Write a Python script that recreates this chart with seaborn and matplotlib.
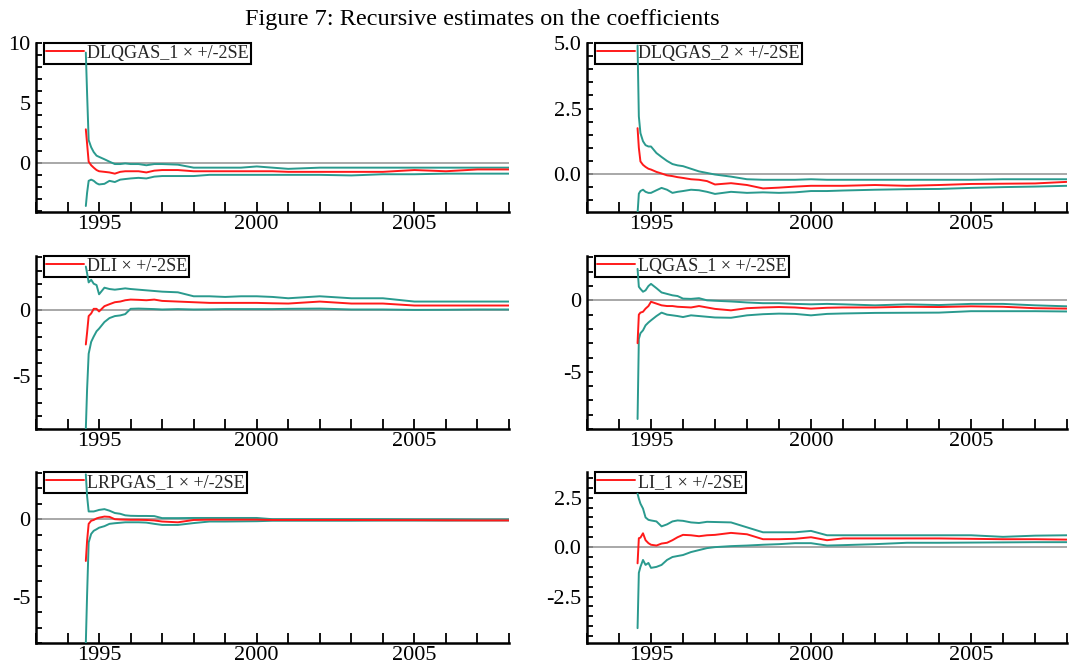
import matplotlib
matplotlib.use("Agg")
import matplotlib.pyplot as plt
import seaborn as sns
import pandas as pd
from matplotlib.ticker import MultipleLocator, FixedLocator, FormatStrFormatter

# ---------------- data ----------------
dates = [1994.58, 1994.62, 1994.67, 1994.75, 1994.83, 1994.92, 1995.0, 1995.17,
         1995.33, 1995.5, 1995.67, 1995.83, 1996.0, 1996.25, 1996.5, 1996.75,
         1997.0, 1997.5, 1998.0, 1998.5, 1999.0, 1999.5, 2000.0, 2000.5,
         2001.0, 2002.0, 2003.0, 2004.0, 2005.0, 2006.0, 2007.0, 2008.0]

dlqgas1_est = [2.8, 1.6, 0.1, -0.2, -0.4, -0.6, -0.7, -0.75, -0.8, -0.9, -0.75, -0.7,
               -0.7, -0.7, -0.8, -0.65, -0.6, -0.6, -0.7, -0.7, -0.7, -0.7, -0.7, -0.7,
               -0.75, -0.75, -0.75, -0.75, -0.6, -0.7, -0.55, -0.55]
dlqgas1_hi = [9.2, 5.8, 1.9, 1.3, 0.9, 0.6, 0.5, 0.3, 0.1, -0.1, -0.1, -0.05,
              -0.1, -0.1, -0.2, -0.1, -0.1, -0.15, -0.4, -0.4, -0.4, -0.4, -0.3, -0.4,
              -0.5, -0.4, -0.4, -0.4, -0.4, -0.4, -0.4, -0.4]
dlqgas1_lo = [-3.6, -2.5, -1.5, -1.4, -1.5, -1.7, -1.8, -1.75, -1.5, -1.6, -1.4, -1.35,
              -1.3, -1.25, -1.3, -1.15, -1.1, -1.1, -1.1, -1.0, -1.0, -1.0, -1.0, -1.0,
              -1.0, -1.0, -1.05, -0.95, -0.95, -0.9, -0.9, -0.9]

dlqgas2_est = [1.75, 1.0, 0.48, 0.35, 0.27, 0.2, 0.17, 0.08, 0.02, -0.05, -0.08, -0.12,
               -0.15, -0.2, -0.22, -0.27, -0.4, -0.35, -0.42, -0.55, -0.52, -0.48, -0.45, -0.45,
               -0.45, -0.42, -0.45, -0.42, -0.38, -0.37, -0.36, -0.3]
dlqgas2_hi = [4.9, 2.2, 1.56, 1.25, 1.1, 1.05, 1.05, 0.8, 0.65, 0.5, 0.38, 0.33,
              0.3, 0.2, 0.1, 0.04, -0.02, -0.1, -0.2, -0.22, -0.22, -0.22, -0.2, -0.22,
              -0.22, -0.22, -0.22, -0.22, -0.22, -0.2, -0.2, -0.2]
dlqgas2_lo = [-1.5, -0.75, -0.65, -0.6, -0.68, -0.72, -0.72, -0.62, -0.53, -0.6, -0.72, -0.68,
              -0.65, -0.6, -0.62, -0.68, -0.76, -0.68, -0.72, -0.7, -0.72, -0.7, -0.65, -0.65,
              -0.63, -0.6, -0.58, -0.57, -0.53, -0.5, -0.48, -0.45]

dli_est = [-2.6, -1.7, -0.45, -0.25, 0.1, 0.1, -0.1, 0.3, 0.45, 0.6, 0.65, 0.75,
           0.8, 0.78, 0.75, 0.8, 0.7, 0.65, 0.6, 0.55, 0.55, 0.55, 0.55, 0.52,
           0.5, 0.65, 0.5, 0.5, 0.35, 0.35, 0.35, 0.35]
dli_hi = [3.3, 2.8, 2.1, 2.3, 2.0, 1.9, 1.2, 1.7, 1.6, 1.55, 1.6, 1.65,
          1.6, 1.55, 1.5, 1.45, 1.4, 1.35, 1.05, 1.05, 1.0, 1.05, 1.05, 1.0,
          0.9, 1.05, 0.9, 0.9, 0.65, 0.65, 0.65, 0.65]
dli_lo = [-9.0, -6.0, -3.3, -2.4, -2.0, -1.6, -1.4, -0.9, -0.6, -0.45, -0.4, -0.3,
          0.1, 0.12, 0.1, 0.08, 0.05, 0.08, 0.05, 0.06, 0.08, 0.08, 0.08, 0.08,
          0.1, 0.12, 0.05, 0.05, 0.02, 0.03, 0.05, 0.05]

lqgas1_est = [-3.0, -1.0, -0.86, -0.8, -0.58, -0.4, -0.1, -0.23, -0.35, -0.4, -0.4, -0.45,
              -0.47, -0.5, -0.4, -0.5, -0.6, -0.7, -0.55, -0.5, -0.47, -0.5, -0.58, -0.52,
              -0.5, -0.5, -0.45, -0.47, -0.42, -0.45, -0.55, -0.58]
lqgas1_hi = [2.2, 0.95, 0.8, 0.6, 0.7, 1.0, 1.15, 0.85, 0.55, 0.45, 0.35, 0.3,
             0.12, 0.1, 0.15, 0.0, -0.03, -0.08, -0.15, -0.2, -0.2, -0.25, -0.28, -0.25,
             -0.28, -0.35, -0.28, -0.33, -0.25, -0.25, -0.35, -0.42]
lqgas1_lo = [-8.3, -2.7, -2.3, -2.1, -1.75, -1.55, -1.4, -1.1, -0.86, -1.0, -1.05, -1.1,
             -1.17, -1.05, -1.1, -1.15, -1.2, -1.22, -1.05, -0.97, -0.93, -0.95, -1.05, -0.95,
             -0.92, -0.88, -0.87, -0.86, -0.76, -0.76, -0.76, -0.78]

lrpgas1_est = [-2.7, -1.4, -0.3, -0.1, -0.05, 0.05, 0.1, 0.17, 0.15, 0.0, -0.02, -0.03,
               -0.04, -0.04, -0.05, -0.08, -0.15, -0.2, -0.05, -0.03, -0.03, -0.03, -0.03, -0.05,
               -0.05, -0.05, -0.05, -0.06, -0.06, -0.07, -0.08, -0.08]
lrpgas1_hi = [2.9, 1.5, 0.5, 0.5, 0.5, 0.55, 0.6, 0.65, 0.55, 0.4, 0.35, 0.25,
              0.22, 0.21, 0.21, 0.2, 0.07, 0.07, 0.08, 0.08, 0.08, 0.08, 0.08, 0.0,
              0.0, 0.0, 0.0, 0.0, -0.01, -0.01, -0.02, -0.02]
lrpgas1_lo = [-8.0, -4.9, -1.5, -0.95, -0.75, -0.65, -0.55, -0.45, -0.3, -0.26, -0.23, -0.2,
              -0.2, -0.2, -0.22, -0.3, -0.37, -0.37, -0.25, -0.15, -0.15, -0.14, -0.13, -0.1,
              -0.1, -0.1, -0.1, -0.09, -0.09, -0.09, -0.08, -0.08]

li1_est = [-0.82, 0.45, 0.48, 0.7, 0.35, 0.2, 0.12, 0.08, 0.18, 0.22, 0.35, 0.5,
           0.62, 0.6, 0.55, 0.6, 0.62, 0.72, 0.65, 0.4, 0.4, 0.42, 0.5, 0.35,
           0.44, 0.44, 0.44, 0.44, 0.42, 0.4, 0.4, 0.38]
li1_hi = [2.7, 2.45, 2.2, 1.95, 1.5, 1.38, 1.35, 1.3, 1.05, 1.15, 1.3, 1.35,
          1.33, 1.25, 1.22, 1.28, 1.27, 1.25, 1.0, 0.75, 0.75, 0.75, 0.82, 0.6,
          0.6, 0.6, 0.6, 0.6, 0.6, 0.52, 0.58, 0.6]
li1_lo = [-4.1, -1.3, -1.0, -0.65, -0.9, -0.8, -1.05, -1.0, -0.9, -0.65, -0.5, -0.45,
          -0.4, -0.25, -0.15, -0.05, 0.0, 0.05, 0.08, 0.12, 0.15, 0.2, 0.2, 0.08,
          0.1, 0.15, 0.22, 0.22, 0.23, 0.24, 0.25, 0.25]

names = ["DLQGAS_1", "DLQGAS_2", "DLI", "LQGAS_1", "LRPGAS_1", "LI_1"]
title = "Figure 7: Recursive estimates on the coefficients"
xticks_major = [1995, 2000, 2005]

# ---------------- style ----------------
sns.set_theme(style="ticks")
plt.rcParams['font.family'] = ['Liberation Serif', 'DejaVu Serif']
plt.rcParams['axes.unicode_minus'] = False

RED = "#ff1a1a"
TEAL = "#2a9a8e"
GREY = "#999999"

fig = plt.figure(figsize=(10.73, 6.67), dpi=100)
W, H = 1073.0, 667.0

# pixel boxes (left, right, top, bottom)
boxes = [(36, 509, 43, 212), (587, 1067, 43, 212),
         (36, 509, 256, 429), (587, 1067, 256, 429),
         (36, 509, 472, 643), (587, 1067, 472, 643)]

panels = [
    (dlqgas1_est, dlqgas1_hi, dlqgas1_lo, (-4.1, 10.0), 5.0, 1.0, "%d"),
    (dlqgas2_est, dlqgas2_hi, dlqgas2_lo, (-1.45, 5.0), 2.5, 0.5, "%.1f"),
    (dli_est, dli_hi, dli_lo, (-9.0, 4.1), 5.0, 1.0, "%d"),
    (lqgas1_est, lqgas1_hi, lqgas1_lo, (-9.0, 3.1), 5.0, 1.0, "%d"),
    (lrpgas1_est, lrpgas1_hi, lrpgas1_lo, (-8.0, 3.05), 5.0, 1.0, "%d"),
    (li1_est, li1_hi, li1_lo, (-4.85, 3.8), 2.5, 0.5, "%.1f"),
]

for (l, r, t, b), name, (est, hi, lo, ylim, major, minor, fmt) in zip(boxes, names, panels):
    ax = fig.add_axes([l / W, 1 - b / H, (r - l) / W, (b - t) / H])
    df = pd.DataFrame({"date": dates, "est": est, "hi": hi, "lo": lo})
    ax.axhline(0, color=GREY, lw=1.2, zorder=1)
    sns.lineplot(data=df, x="date", y="hi", ax=ax, color=TEAL, lw=1.4, estimator=None, zorder=3)
    sns.lineplot(data=df, x="date", y="lo", ax=ax, color=TEAL, lw=1.4, estimator=None, zorder=3)
    sns.lineplot(data=df, x="date", y="est", ax=ax, color=RED, lw=1.4, estimator=None, zorder=4,
                 label=f"{name} \u00d7 +/-2SE")
    ax.set_xlim(1993, 2008)
    ax.set_ylim(*ylim)
    ax.set_xlabel("")
    ax.set_ylabel("")
    for s in ["top", "right"]:
        ax.spines[s].set_visible(False)
    for s in ["left", "bottom"]:
        ax.spines[s].set_linewidth(1.8)
        ax.spines[s].set_color("black")
    ax.xaxis.set_major_locator(FixedLocator(xticks_major))
    ax.xaxis.set_minor_locator(MultipleLocator(1))
    ax.xaxis.set_major_formatter(FormatStrFormatter("%d"))
    ax.yaxis.set_major_locator(MultipleLocator(major))
    ax.yaxis.set_minor_locator(MultipleLocator(minor))
    ax.yaxis.set_major_formatter(FormatStrFormatter(fmt))
    ax.tick_params(axis="x", which="both", direction="in", length=7, width=1.3,
                   labelsize=16, pad=2, colors="black")
    ax.tick_params(axis="y", which="both", direction="in", length=4, width=1.3,
                   labelsize=16, pad=4, colors="black")
    ax.set_facecolor("white")
    leg = ax.legend(loc="upper left", bbox_to_anchor=(0.017, 1.0), borderaxespad=0,
                    fontsize=13, handlelength=2.1, handletextpad=0.2,
                    borderpad=0.1, fancybox=False, frameon=True, framealpha=1)
    leg.get_frame().set_edgecolor("black")
    leg.get_frame().set_linewidth(1.5)
    leg.set_zorder(2)

fig.text(482 / W, 1 - 20 / H, title, ha="center", va="center", fontsize=17.5, color="black")
fig.savefig("out.png", dpi=100, facecolor="white")
